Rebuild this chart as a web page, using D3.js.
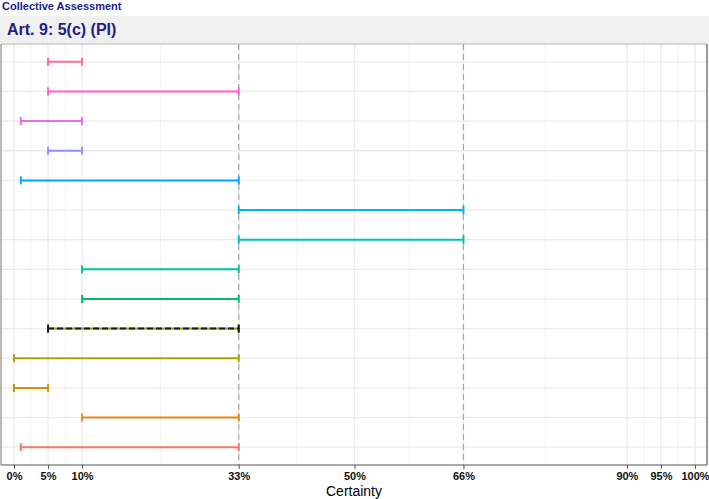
<!DOCTYPE html>
<html><head><meta charset="utf-8">
<script src="https://cdn.jsdelivr.net/npm/d3@7"></script>
<style>body{margin:0;background:#fff}svg{display:block;font-family:"Liberation Sans",Arial,sans-serif}</style>
</head><body><svg id="c" width="709" height="499"></svg>
<script>
// rows listed bottom to top
const rows = ["r1","r2","r3","r4","r5","r6","r7","r8","r9","r10","r11","r12","r13","r14"];
const lows  = [1, 10, 0, 0, 5, 10, 10, 33, 33, 1, 5, 1, 5, 5];
const highs = [33, 33, 5, 33, 33, 33, 33, 66, 66, 33, 10, 10, 33, 10];
const colors = ["#F8766D","#E68613","#CD9600","#ABA300","#7CAE00","#00BE67","#00C19A","#00BFC4","#00B8E7","#00A9FF","#8F91FF","#ED68ED","#FF61CC","#FF68A1"];
const collective = {row:"r5", low:5, high:33};
const tickVals = [0,5,10,33,50,66,90,95,100];
const tickLabels = ["0%","5%","10%","33%","50%","66%","90%","95%","100%"];
const minorVals = [2.5,7.5,21.5,41.5,58,78,92.5,97.5];
const refLines = [33,66];

const svg = d3.select("#c");
const L=1, R=707, T=44, B=465;
const x = d3.scaleLinear().domain([0,100]).range([14,695]);
const y = d3.scalePoint().domain(rows).range([B,T]).padding(0.6);

svg.append("text").attr("x",2).attr("y",10).attr("font-size",11).attr("font-weight","bold").attr("fill","#1C1C8A").text("Collective Assessment");
svg.append("rect").attr("x",0).attr("y",16).attr("width",709).attr("height",27).attr("fill","#F0F0F0");
svg.append("text").attr("x",7).attr("y",35).attr("font-size",16).attr("font-weight","bold").attr("fill","#1C1C8A").text("Art. 9: 5(c) (PI)");

svg.append("rect").attr("x",L).attr("y",T).attr("width",R-L).attr("height",B-T).attr("fill","#fff");
const g = svg.append("g");
g.selectAll(".mn").data(minorVals).join("line").attr("x1",d=>x(d)).attr("x2",d=>x(d)).attr("y1",T).attr("y2",B).attr("stroke","#F3F3F3").attr("stroke-width",1);
g.selectAll(".mj").data(tickVals).join("line").attr("x1",d=>x(d)).attr("x2",d=>x(d)).attr("y1",T).attr("y2",B).attr("stroke","#EBEBEB").attr("stroke-width",1.3);
g.selectAll(".hy").data(rows).join("line").attr("x1",L).attr("x2",R).attr("y1",d=>y(d)).attr("y2",d=>y(d)).attr("stroke","#EBEBEB").attr("stroke-width",1.3);
g.selectAll(".ref").data(refLines).join("line").attr("x1",d=>x(d)).attr("x2",d=>x(d)).attr("y1",T).attr("y2",B).attr("stroke","#A6A6A6").attr("stroke-width",1.2).attr("stroke-dasharray","6,4");

const data = rows.map((r,i)=>({r, lo:lows[i], hi:highs[i], c:colors[i]}));
const eb = g.selectAll(".eb").data(data).join("g");
eb.append("line").attr("x1",d=>x(d.lo)).attr("x2",d=>x(d.hi)).attr("y1",d=>y(d.r)).attr("y2",d=>y(d.r)).attr("stroke",d=>d.c).attr("stroke-width",2);
eb.append("line").attr("x1",d=>x(d.lo)).attr("x2",d=>x(d.lo)).attr("y1",d=>y(d.r)-4).attr("y2",d=>y(d.r)+4).attr("stroke",d=>d.c).attr("stroke-width",2);
eb.append("line").attr("x1",d=>x(d.hi)).attr("x2",d=>x(d.hi)).attr("y1",d=>y(d.r)-4).attr("y2",d=>y(d.r)+4).attr("stroke",d=>d.c).attr("stroke-width",2);

const cy = y(collective.row);
g.append("line").attr("x1",x(collective.low)).attr("x2",x(collective.high)).attr("y1",cy).attr("y2",cy).attr("stroke","#1a1a1a").attr("stroke-width",2).attr("stroke-dasharray","6,3");
[collective.low,collective.high].forEach(v=>g.append("line").attr("x1",x(v)).attr("x2",x(v)).attr("y1",cy-4).attr("y2",cy+4).attr("stroke","#1a1a1a").attr("stroke-width",2));

// borders
svg.append("line").attr("x1",L).attr("x2",R).attr("y1",T).attr("y2",T).attr("stroke","#B0B0B0").attr("stroke-width",1.2);
svg.append("line").attr("x1",L).attr("x2",L).attr("y1",T).attr("y2",B).attr("stroke","#8a8a8a").attr("stroke-width",1.2);
svg.append("line").attr("x1",R).attr("x2",R).attr("y1",T).attr("y2",B).attr("stroke","#555").attr("stroke-width",1.2);

const xa = svg.append("g").attr("transform",`translate(0,${B})`).call(d3.axisBottom(x).tickValues(tickVals).tickFormat((d,i)=>tickLabels[i]).tickSizeOuter(0).tickSize(4).tickPadding(3));
xa.select(".domain").attr("stroke","#555").attr("stroke-width",1.2).attr("d",`M${L},0H${R}`);
xa.selectAll(".tick line").attr("stroke","#555");
xa.selectAll(".tick text").attr("font-size",11).attr("font-weight","bold").attr("fill","#111").attr("font-family","Liberation Sans,Arial,sans-serif");

svg.append("text").attr("x",(L+R)/2).attr("y",496).attr("text-anchor","middle").attr("font-size",14).attr("fill","#000").text("Certainty");
</script></body></html>
